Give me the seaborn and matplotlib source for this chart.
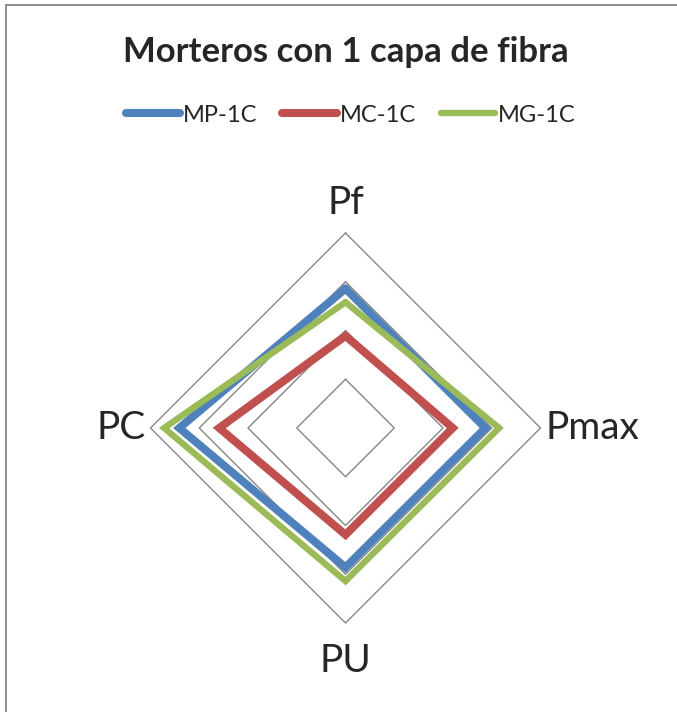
import numpy as np
import pandas as pd
import matplotlib.pyplot as plt
import seaborn as sns

# Data (radar chart, 4 axes clockwise from the top)
axes_labels = ['Pf', 'Pmax', 'PU', 'PC']
series_names = ['MP-1C', 'MC-1C', 'MG-1C']
mp_1c = [2.86, 2.87, 2.86, 3.41]
mc_1c = [1.89, 2.20, 2.19, 2.59]
mg_1c = [2.58, 3.15, 3.14, 3.72]
grid_levels = [1, 2, 3, 4]

colors = {'MP-1C': '#4F81BD', 'MC-1C': '#C0504D', 'MG-1C': '#9BBB59'}
widths = {'MP-1C': 5.8, 'MC-1C': 5.8, 'MG-1C': 4.6}

sns.set_theme(style='white')
plt.rcParams['font.family'] = ['Lato', 'DejaVu Sans']

# angles clockwise from the top
angles = np.arange(len(axes_labels)) * 2 * np.pi / len(axes_labels)

rows = []
for name, vals in zip(series_names, [mp_1c, mc_1c, mg_1c]):
    closed = list(vals) + [vals[0]]
    ang = list(angles) + [angles[0]]
    for k, (r, a) in enumerate(zip(closed, ang)):
        rows.append({'serie': name, 'order': k, 'x': r * np.sin(a), 'y': r * np.cos(a)})
data = pd.DataFrame(rows)

fig = plt.figure(figsize=(6.77, 7.12), dpi=100)
ax = fig.add_axes([0, 0, 1, 1])

# pixel geometry of the plot area
cx, cy, unit = 345.5, 712 - 428, 48.75
ax.set_xlim(-cx / unit, (677 - cx) / unit)
ax.set_ylim(-cy / unit, (712 - cy) / unit)
ax.axis('off')

# diamond gridlines
for lv in grid_levels:
    gx = [lv * np.sin(a) for a in angles] + [0]
    gy = [lv * np.cos(a) for a in angles] + [lv]
    ax.plot(gx, gy, color='#868686', lw=1.0, zorder=1)

sns.lineplot(data=data, x='x', y='y', hue='serie', sort=False, estimator=None,
             palette=colors, ax=ax, legend=False, zorder=3)
for line, name in zip(ax.lines[len(grid_levels):], series_names):
    line.set_linewidth(widths[name])
    line.set_solid_joinstyle('miter')
    line.set_solid_capstyle('round')

# axis category labels
rmax = grid_levels[-1]
ax.text(0, rmax + 0.62, 'Pf', ha='center', va='center', fontsize=28)
ax.text(rmax + 0.1, 0, 'Pmax', ha='left', va='center', fontsize=28)
ax.text(0, -rmax - 0.78, 'PU', ha='center', va='center', fontsize=28)
ax.text(-rmax - 0.1, 0, 'PC', ha='right', va='center', fontsize=28)

# legend
handles = [plt.Line2D([0], [0], color=colors[n], lw=widths[n], solid_capstyle='round')
           for n in series_names]
fig.legend(handles, series_names, loc='center', bbox_to_anchor=(0.518, 1 - 115 / 712),
           ncol=3, frameon=False, fontsize=17, handlelength=2.3, handletextpad=0.12,
           columnspacing=1.05)

fig.text(0.511, 1 - 52 / 712, 'Morteros con 1 capa de fibra', ha='center', va='center',
         fontsize=25, fontweight='bold')

# chart border (top and left visible)
fig.add_artist(plt.Line2D([6 / 677, 1.0], [1 - 5 / 712, 1 - 5 / 712], color='#868686',
                          lw=1.3, transform=fig.transFigure))
fig.add_artist(plt.Line2D([6 / 677, 6 / 677], [0, 1 - 5 / 712], color='#868686',
                          lw=1.3, transform=fig.transFigure))

plt.savefig('out.png', dpi=100)
